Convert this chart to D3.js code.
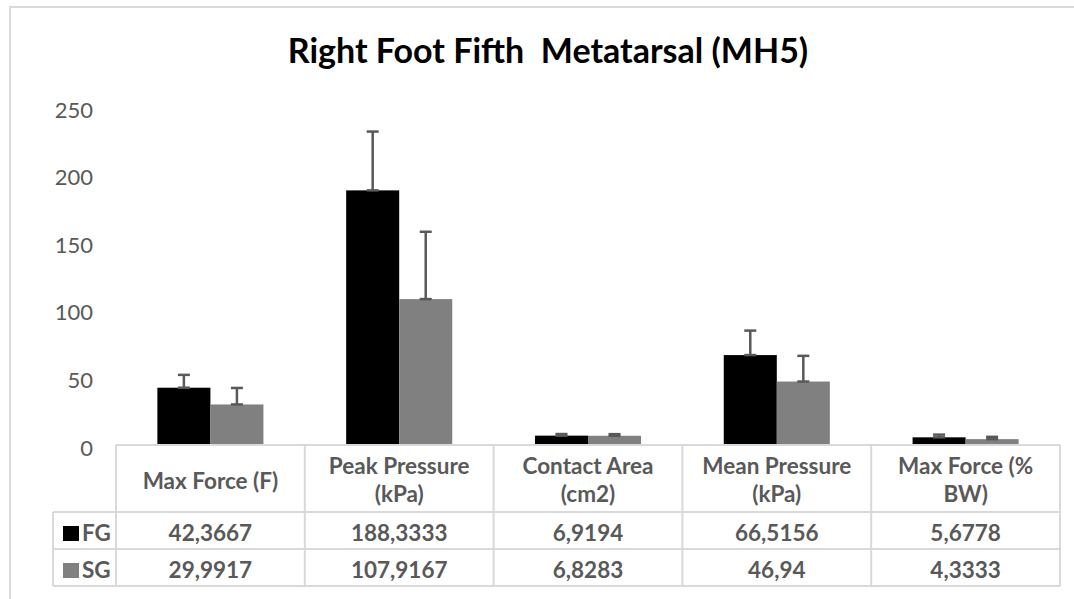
<!DOCTYPE html>
<html>
<head>
<meta charset="utf-8">
<script src="https://cdn.jsdelivr.net/npm/d3@7"></script>
<style>
  body { margin: 0; background: #fff; }
  svg { display: block; font-family: Lato, "Noto Sans", sans-serif; }
</style>
</head>
<body>
<div id="chart"></div>
<script>
const title = "Right Foot Fifth  Metatarsal (MH5)";
const categories = ["Max Force (F)", "Peak Pressure (kPa)", "Contact Area (cm2)", "Mean Pressure (kPa)", "Max Force (% BW)"];
const categoryLines = [["Max Force (F)"], ["Peak Pressure", "(kPa)"], ["Contact Area", "(cm2)"], ["Mean Pressure", "(kPa)"], ["Max Force (%", "BW)"]];
const seriesNames = ["FG", "SG"];
const fgValues = [42.3667, 188.3333, 6.9194, 66.5156, 5.6778];
const sgValues = [29.9917, 107.9167, 6.8283, 46.94, 4.3333];
const fgErrors = [9.5, 43.5, 1.2, 18.1, 2.0];
const sgErrors = [12.2, 49.8, 1.2, 19, 1.7];
const yTicks = [0, 50, 100, 150, 200, 250];

let width = 1074,
  height = 599,
  margin = ({ top: 107, right: 14, bottom: 154, left: 116 });

const colors = { FG: "#000000", SG: "#808080" };
const gridColor = "#d9d9d9";
const textColor = "#595959";

const series = seriesNames.map((name, i) => ({
  name,
  values: i === 0 ? fgValues : sgValues,
  errors: i === 0 ? fgErrors : sgErrors
}));

let x = d3.scaleBand()
  .domain(categories)
  .range([margin.left, width - margin.right])
  .padding(0);

let xs = d3.scaleBand()
  .domain(seriesNames)
  .range([0, x.bandwidth()])
  .paddingInner(0)
  .paddingOuter(0.78);

let y = d3.scaleLinear()
  .domain([0, 250])
  .range([height - margin.bottom, margin.top]);

const svg = d3.select("#chart")
  .append("svg")
  .attr("width", width)
  .attr("height", height)
  .attr("viewBox", [0, 0, width, height]);

// chart frame (right and bottom edges fall outside the picture)
svg.append("rect")
  .attr("x", 10).attr("y", 7)
  .attr("width", 1100).attr("height", 620)
  .attr("fill", "none")
  .attr("stroke", gridColor)
  .attr("stroke-width", 2);

svg.append("text")
  .attr("x", 548)
  .attr("y", 63)
  .attr("text-anchor", "middle")
  .attr("font-size", 34)
  .attr("font-weight", 700)
  .attr("fill", "#000")
  .style("white-space", "pre")
  .text(title);

// y axis
svg.append("g")
  .attr("transform", `translate(93,3)`)
  .call(d3.axisLeft(y).tickValues(yTicks).tickSize(0).tickPadding(0))
  .call(g => g.select(".domain").remove())
  .call(g => g.selectAll("text")
    .attr("font-family", "Lato, 'Noto Sans', sans-serif")
    .attr("font-size", 22)
    .attr("fill", textColor));

// bars
const group = svg.selectAll(".series")
  .data(series)
  .join("g")
  .attr("class", "series")
  .attr("fill", d => colors[d.name]);

group.selectAll("rect")
  .data(d => d.values.map((v, i) => ({ name: d.name, cat: categories[i], v })))
  .join("rect")
  .attr("x", d => x(d.cat) + xs(d.name))
  .attr("width", xs.bandwidth())
  .attr("y", d => y(d.v))
  .attr("height", d => y(0) - y(d.v));

// error bars (plus direction, cap at both ends)
const err = svg.selectAll(".err")
  .data(series.flatMap(s => s.values.map((v, i) => ({ name: s.name, cat: categories[i], v, e: s.errors[i] }))))
  .join("g")
  .attr("class", "err")
  .attr("stroke", textColor)
  .attr("stroke-width", 2.5);

err.append("line")
  .attr("x1", d => x(d.cat) + xs(d.name) + xs.bandwidth() / 2)
  .attr("x2", d => x(d.cat) + xs(d.name) + xs.bandwidth() / 2)
  .attr("y1", d => y(d.v))
  .attr("y2", d => y(d.v + d.e));

err.selectAll(".cap")
  .data(d => [d.v, d.v + d.e].map(t => ({ ...d, t })))
  .join("line")
  .attr("class", "cap")
  .attr("x1", d => x(d.cat) + xs(d.name) + xs.bandwidth() / 2 - 6)
  .attr("x2", d => x(d.cat) + xs(d.name) + xs.bandwidth() / 2 + 6)
  .attr("y1", d => y(d.t))
  .attr("y2", d => y(d.t));

// data table
const rowTop = y(0);
const headerBottom = 512;
const rowH = 37;
const legendLeft = 53;
const tableBottom = headerBottom + rowH * seriesNames.length;

const table = svg.append("g")
  .attr("stroke", gridColor)
  .attr("stroke-width", 2)
  .attr("fill", "none");

table.append("line")
  .attr("x1", margin.left).attr("x2", width - margin.right)
  .attr("y1", rowTop).attr("y2", rowTop);
[headerBottom, headerBottom + rowH, tableBottom].forEach(yy => {
  table.append("line")
    .attr("x1", legendLeft).attr("x2", width - margin.right)
    .attr("y1", yy).attr("y2", yy);
});
table.append("line")
  .attr("x1", legendLeft).attr("x2", legendLeft)
  .attr("y1", headerBottom).attr("y2", tableBottom);
categories.concat([null]).forEach((c, i) => {
  const xx = c ? x(c) : x.range()[1];
  table.append("line")
    .attr("x1", xx).attr("x2", xx)
    .attr("y1", rowTop).attr("y2", tableBottom);
});

const labels = svg.append("g")
  .attr("fill", textColor)
  .attr("font-size", 22.5)
  .attr("font-weight", 700)
  .attr("text-anchor", "middle");

categories.forEach((c, i) => {
  const lines = categoryLines[i];
  lines.forEach((t, j) => {
    labels.append("text")
      .attr("x", x(c) + x.bandwidth() / 2)
      .attr("y", lines.length === 1 ? 489 : 474 + j * 28)
      .text(t);
  });
});

series.forEach((s, r) => {
  const base = headerBottom + rowH * r + 29;
  svg.append("rect")
    .attr("x", 63).attr("y", headerBottom + rowH * r + 14)
    .attr("width", 16).attr("height", 15)
    .attr("fill", colors[s.name]);
  svg.append("text")
    .attr("x", 82).attr("y", base)
    .attr("fill", textColor)
    .attr("font-size", 22.5)
    .attr("font-weight", 700)
    .text(s.name);
  s.values.forEach((v, i) => {
    labels.append("text")
      .attr("x", x(categories[i]) + x.bandwidth() / 2)
      .attr("y", base)
      .text(String(v).replace(".", ","));
  });
});
</script>
</body>
</html>
